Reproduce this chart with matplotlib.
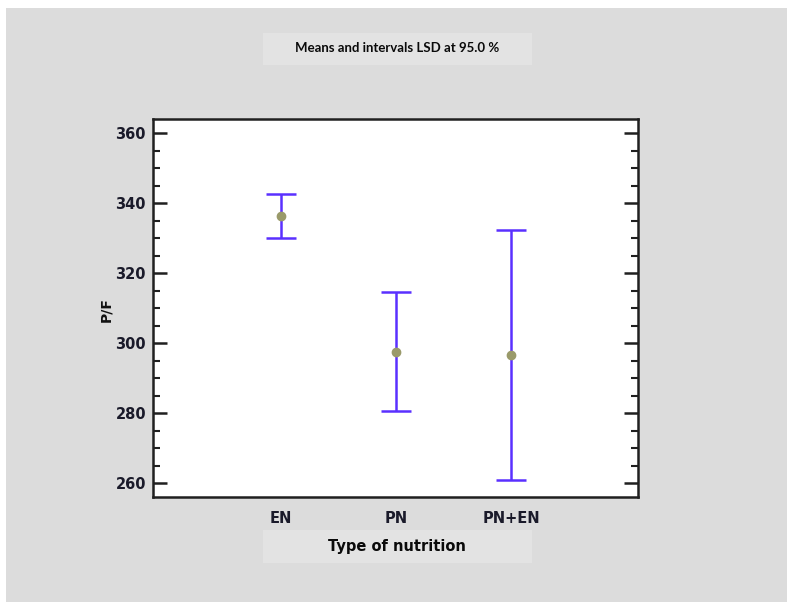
import matplotlib
matplotlib.use("Agg")
import matplotlib.pyplot as plt
from matplotlib.patches import Rectangle
from matplotlib.ticker import MultipleLocator

categories = ["EN", "PN", "PN+EN"]
means = [336.4, 297.3, 296.7]
upper = [342.7, 314.7, 332.2]
lower = [329.9, 280.6, 261.0]

title = "Means and intervals LSD at 95.0 %"
xlabel = "Type of nutrition"
ylabel = "P/F"

W, H = 787, 602
fig = plt.figure(figsize=(W / 100, H / 100), dpi=100, facecolor="white")

# grey panel
fig.patches.append(Rectangle((6 / W, 0), 1 - 6 / W, 1 - 8 / H, transform=fig.transFigure,
                             facecolor="#dcdcdc", edgecolor="none", zorder=-3))
# title and xlabel boxes
fig.patches.append(Rectangle((263 / W, 1 - 65 / H), (532 - 263) / W, 32 / H,
                             transform=fig.transFigure, facecolor="#e3e3e3",
                             edgecolor="none", zorder=-2))
fig.patches.append(Rectangle((263 / W, 1 - 563 / H), (532 - 263) / W, 33 / H,
                             transform=fig.transFigure, facecolor="#e3e3e3",
                             edgecolor="none", zorder=-2))

ax = fig.add_axes([153 / W, 1 - 497 / H, (638 - 153) / W, (497 - 119) / H])
ax.set_facecolor("white")

x = list(range(len(categories)))
yerr = [[m - l for m, l in zip(means, lower)], [u - m for m, u in zip(means, upper)]]
ax.errorbar(x, means, yerr=yerr, fmt="none", ecolor="#5a30ff", elinewidth=1.8,
            capsize=11, capthick=1.8, zorder=2)
ax.plot(x, means, "o", color="#9a9a6a", markersize=6, zorder=3)

ax.set_ylim(256, 364)
ax.set_xlim(-1.113, 3.10)
ax.yaxis.set_major_locator(MultipleLocator(20))
ax.yaxis.set_minor_locator(MultipleLocator(5))
ax.set_xticks(x)
ax.set_xticklabels(categories)
ax.tick_params(axis="y", which="major", direction="in", length=10, width=1.8,
               left=True, right=True, color="#202020")
ax.tick_params(axis="y", which="minor", direction="in", length=5, width=1.5,
               left=True, right=True, color="#202020")
ax.tick_params(axis="x", length=0, pad=10)
ax.tick_params(axis="y", pad=5)

for lab in ax.get_xticklabels() + ax.get_yticklabels():
    lab.set_fontfamily(["DejaVu Sans"])
    lab.set_fontweight("bold")
    lab.set_fontsize(10.5)
    lab.set_color("#1a1a2a")

for s in ax.spines.values():
    s.set_linewidth(1.8)
    s.set_color("#202020")

fig.text(397 / W, 1 - 48 / H, title, ha="center", va="center",
         fontsize=9.5, fontweight="bold", family=["Lato", "DejaVu Sans"], color="#0a0a0a")
fig.text(397 / W, 1 - 547 / H, xlabel, ha="center", va="center",
         fontsize=10.5, fontweight="bold", family=["DejaVu Sans"], color="#0a0a0a")
fig.text(106 / W, 1 - 310 / H, ylabel, ha="center", va="center", rotation=90,
         fontsize=10, fontweight="bold", family=["DejaVu Sans"], color="#111111")

fig.savefig("out.png", dpi=100, facecolor=fig.get_facecolor())
